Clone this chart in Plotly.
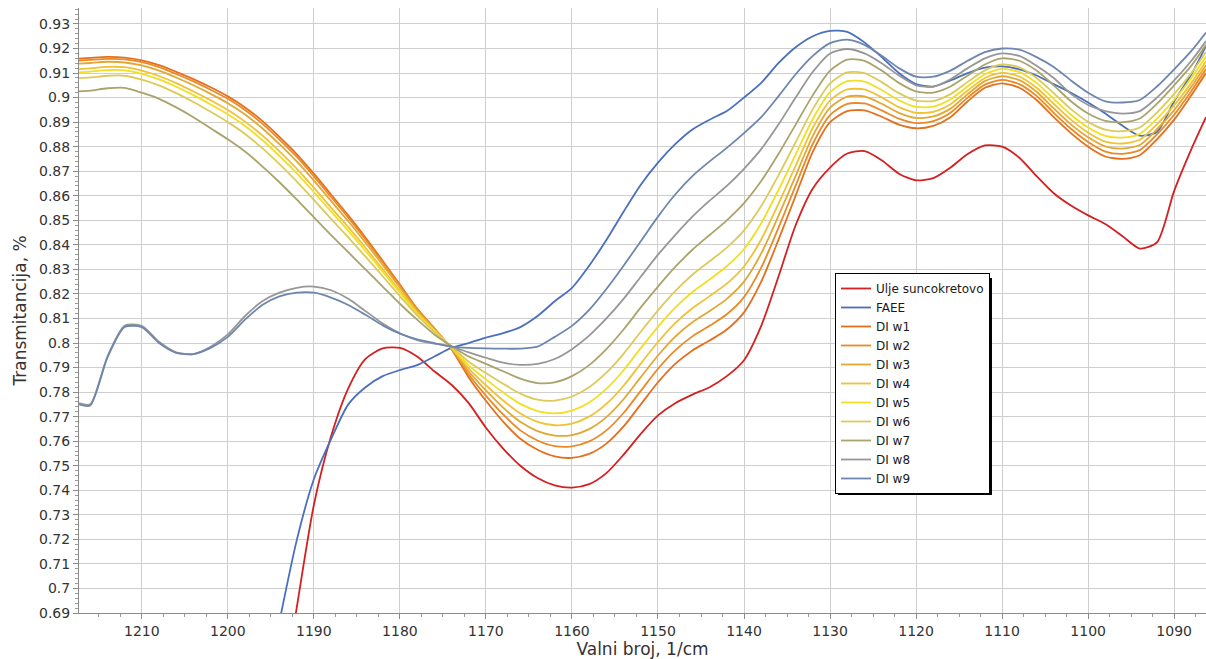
import plotly.graph_objects as go

# valni broj (1/cm)
wavenumber = [1217.3, 1216, 1214, 1212, 1210, 1208, 1206, 1204, 1202, 1200,
              1198, 1196, 1194, 1192, 1190, 1188, 1186, 1184, 1182, 1180,
              1178, 1176, 1174, 1172, 1170, 1168, 1166, 1164, 1162, 1160,
              1158, 1156, 1154, 1152, 1150, 1148, 1146, 1144, 1142, 1140,
              1138, 1136, 1134, 1132, 1130, 1128, 1126, 1124, 1122, 1120,
              1118, 1116, 1114, 1112, 1110, 1108, 1106, 1104, 1102, 1100,
              1098, 1096, 1094, 1092, 1090, 1088, 1086.3]

ulje = [None, None, None, None, None, None, None, None, None, None,
        None, None, 0.648, 0.692, 0.734, 0.762, 0.7815, 0.7935, 0.7978, 0.7980,
        0.7945, 0.7885, 0.7830, 0.7755, 0.7655, 0.7570, 0.7500, 0.7450, 0.7420, 0.7411,
        0.7425, 0.7470, 0.7545, 0.7630, 0.7705, 0.7755, 0.7790, 0.7820, 0.7865, 0.7930,
        0.8070, 0.8270, 0.8480, 0.8630, 0.8715, 0.8772, 0.8782, 0.8745, 0.8690, 0.8663,
        0.8672, 0.8715, 0.8770, 0.8805, 0.8800, 0.8755, 0.8680, 0.8610, 0.8560, 0.8520,
        0.8485, 0.8435, 0.8385, 0.8410, 0.8620, 0.8790, 0.8920]

faee = [None, None, None, None, None, None, None, None, None, None,
        None, None, 0.6865, 0.7195, 0.7445, 0.7608, 0.7750, 0.7820, 0.7865, 0.7890,
        0.7910, 0.7945, 0.7980, 0.8000, 0.8022, 0.8040, 0.8065, 0.8110, 0.8170, 0.8225,
        0.8315, 0.8420, 0.8535, 0.8645, 0.8735, 0.8810, 0.8870, 0.8910, 0.8945, 0.9000,
        0.9060, 0.9140, 0.9205, 0.9250, 0.9272, 0.9268, 0.9225, 0.9165, 0.9100, 0.9055,
        0.9045, 0.9070, 0.9100, 0.9122, 0.9127, 0.9115, 0.9090, 0.9055, 0.9020, 0.8980,
        0.8935, 0.8885, 0.8845, 0.8860, 0.8985, 0.9095, 0.9210]

di_w1 = [0.9159, 0.9162, 0.9166, 0.9163, 0.9152, 0.9132, 0.9105, 0.9075, 0.9042, 0.9005,
         0.8960, 0.8905, 0.8840, 0.8770, 0.8690, 0.8605, 0.8520, 0.8430, 0.8335, 0.8238,
         0.8140, 0.8060, 0.7975, 0.7860, 0.7765, 0.7680, 0.7610, 0.7565, 0.7538, 0.7532,
         0.7548, 0.7590, 0.7660, 0.7750, 0.7840, 0.7915, 0.7970, 0.8010, 0.8055, 0.8125,
         0.8250, 0.8420, 0.8600, 0.8780, 0.8900, 0.8945, 0.8948, 0.8922, 0.8890, 0.8875,
         0.8885, 0.8920, 0.8985, 0.9040, 0.9058, 0.9040, 0.8990, 0.8920, 0.8855, 0.8800,
         0.8760, 0.8750, 0.8765, 0.8830, 0.8910, 0.9010, 0.9100]

di_w2 = [0.9151, 0.9154, 0.9158, 0.9156, 0.9144, 0.9124, 0.9096, 0.9066, 0.9032, 0.8995,
         0.8949, 0.8894, 0.8829, 0.8759, 0.8679, 0.8595, 0.8511, 0.8422, 0.8329, 0.8233,
         0.8137, 0.8059, 0.7977, 0.7872, 0.7786, 0.7709, 0.7644, 0.7603, 0.7580, 0.7579,
         0.7599, 0.7644, 0.7715, 0.7805, 0.7895, 0.7970, 0.8027, 0.8070, 0.8117, 0.8187,
         0.8307, 0.8469, 0.8641, 0.8812, 0.8929, 0.8974, 0.8976, 0.8948, 0.8914, 0.8896,
         0.8904, 0.8938, 0.9000, 0.9053, 0.9072, 0.9055, 0.9007, 0.8938, 0.8873, 0.8819,
         0.8780, 0.8771, 0.8786, 0.8850, 0.8930, 0.9027, 0.9116]

di_w3 = [0.9138, 0.9141, 0.9146, 0.9143, 0.9131, 0.9110, 0.9082, 0.9050, 0.9015, 0.8977,
         0.8931, 0.8875, 0.8810, 0.8740, 0.8662, 0.8579, 0.8496, 0.8409, 0.8318, 0.8226,
         0.8133, 0.8056, 0.7979, 0.7884, 0.7807, 0.7737, 0.7679, 0.7641, 0.7623, 0.7625,
         0.7649, 0.7698, 0.7771, 0.7861, 0.7949, 0.8026, 0.8085, 0.8130, 0.8180, 0.8250,
         0.8365, 0.8518, 0.8681, 0.8844, 0.8959, 0.9004, 0.9005, 0.8975, 0.8938, 0.8917,
         0.8923, 0.8955, 0.9014, 0.9067, 0.9087, 0.9071, 0.9024, 0.8956, 0.8891, 0.8838,
         0.8801, 0.8792, 0.8807, 0.8871, 0.8949, 0.9044, 0.9132]

di_w4 = [0.9116, 0.9119, 0.9125, 0.9124, 0.9110, 0.9088, 0.9059, 0.9025, 0.8989, 0.8949,
         0.8902, 0.8846, 0.8781, 0.8711, 0.8633, 0.8552, 0.8472, 0.8388, 0.8301, 0.8213,
         0.8126, 0.8052, 0.7980, 0.7896, 0.7828, 0.7766, 0.7713, 0.7679, 0.7665, 0.7672,
         0.7700, 0.7752, 0.7826, 0.7916, 0.8004, 0.8081, 0.8142, 0.8191, 0.8242, 0.8312,
         0.8422, 0.8567, 0.8722, 0.8877, 0.8988, 0.9033, 0.9033, 0.9001, 0.8961, 0.8938,
         0.8942, 0.8973, 0.9029, 0.9080, 0.9101, 0.9086, 0.9040, 0.8975, 0.8910, 0.8857,
         0.8821, 0.8813, 0.8828, 0.8891, 0.8969, 0.9060, 0.9148]

di_w5 = [0.9103, 0.9106, 0.9112, 0.9111, 0.9097, 0.9074, 0.9044, 0.9010, 0.8972, 0.8932,
         0.8884, 0.8827, 0.8762, 0.8692, 0.8615, 0.8536, 0.8457, 0.8375, 0.8291, 0.8205,
         0.8121, 0.8050, 0.7983, 0.7909, 0.7852, 0.7799, 0.7752, 0.7723, 0.7713, 0.7725,
         0.7758, 0.7813, 0.7889, 0.7979, 0.8066, 0.8144, 0.8208, 0.8259, 0.8313, 0.8383,
         0.8488, 0.8623, 0.8768, 0.8913, 0.9022, 0.9067, 0.9065, 0.9031, 0.8989, 0.8962,
         0.8963, 0.8993, 0.9046, 0.9095, 0.9117, 0.9104, 0.9060, 0.8995, 0.8930, 0.8878,
         0.8844, 0.8837, 0.8852, 0.8914, 0.8991, 0.9080, 0.9167]

di_w6 = [0.9079, 0.9082, 0.9089, 0.9089, 0.9073, 0.9050, 0.9018, 0.8982, 0.8942, 0.8900,
         0.8852, 0.8794, 0.8729, 0.8659, 0.8583, 0.8506, 0.8430, 0.8352, 0.8272, 0.8191,
         0.8113, 0.8045, 0.7985, 0.7924, 0.7878, 0.7834, 0.7794, 0.7769, 0.7765, 0.7782,
         0.7820, 0.7879, 0.7956, 0.8046, 0.8133, 0.8211, 0.8278, 0.8333, 0.8389, 0.8459,
         0.8558, 0.8683, 0.8818, 0.8953, 0.9058, 0.9103, 0.9100, 0.9063, 0.9018, 0.8988,
         0.8986, 0.9014, 0.9064, 0.9111, 0.9135, 0.9123, 0.9080, 0.9018, 0.8953, 0.8901,
         0.8869, 0.8863, 0.8878, 0.8939, 0.9015, 0.9100, 0.9186]

di_w7 = [0.9025, 0.9028, 0.9038, 0.9040, 0.9020, 0.8995, 0.8960, 0.8920, 0.8875, 0.8830,
         0.8780, 0.8720, 0.8655, 0.8585, 0.8512, 0.8440, 0.8370, 0.8300, 0.8230, 0.8160,
         0.8095, 0.8035, 0.7988, 0.7945, 0.7915, 0.7885, 0.7855, 0.7837, 0.7840, 0.7865,
         0.7910, 0.7975, 0.8055, 0.8145, 0.8230, 0.8310, 0.8380, 0.8440, 0.8500, 0.8570,
         0.8660, 0.8770, 0.8890, 0.9010, 0.9110, 0.9155, 0.9150, 0.9110, 0.9060, 0.9025,
         0.9020, 0.9045, 0.9090, 0.9135, 0.9160, 0.9150, 0.9110, 0.9050, 0.8985, 0.8935,
         0.8905, 0.8900, 0.8915, 0.8975, 0.9050, 0.9130, 0.9215]

di_w8 = [0.7755, 0.7750, 0.7945, 0.8070, 0.8070, 0.8005, 0.7962, 0.7955, 0.7985, 0.8035,
         0.8110, 0.8170, 0.8205, 0.8225, 0.8230, 0.8215, 0.8180, 0.8130, 0.8080, 0.8040,
         0.8012, 0.7998, 0.7985, 0.7962, 0.7940, 0.7920, 0.7911, 0.7915, 0.7935, 0.7975,
         0.8030, 0.8100, 0.8180, 0.8270, 0.8360, 0.8440, 0.8515, 0.8580, 0.8640, 0.8710,
         0.8790, 0.8890, 0.9000, 0.9105, 0.9180, 0.9198, 0.9180, 0.9140, 0.9090, 0.9050,
         0.9045, 0.9075, 0.9120, 0.9160, 0.9180, 0.9170, 0.9130, 0.9080, 0.9015, 0.8970,
         0.8945, 0.8935, 0.8945, 0.9000, 0.9070, 0.9150, 0.9230]

di_w9 = [0.7750, 0.7745, 0.7940, 0.8065, 0.8065, 0.8000, 0.7960, 0.7955, 0.7980, 0.8025,
         0.8095, 0.8155, 0.8190, 0.8205, 0.8205, 0.8185, 0.8155, 0.8115, 0.8072, 0.8038,
         0.8015, 0.8000, 0.7985, 0.7980, 0.7978, 0.7977, 0.7977, 0.7985, 0.8025, 0.8070,
         0.8135, 0.8220, 0.8315, 0.8415, 0.8515, 0.8605, 0.8680, 0.8740, 0.8795, 0.8855,
         0.8920, 0.9005, 0.9095, 0.9170, 0.9222, 0.9236, 0.9215, 0.9170, 0.9120, 0.9085,
         0.9085, 0.9110, 0.9150, 0.9185, 0.9200, 0.9195, 0.9165, 0.9125, 0.9070, 0.9020,
         0.8985, 0.8980, 0.8990, 0.9045, 0.9115, 0.9190, 0.9265]

series = [
    ("Ulje suncokretovo", ulje, "#d42020"),
    ("FAEE", faee, "#4a6fbf"),
    ("DI w1", di_w1, "#e3701e"),
    ("DI w2", di_w2, "#ea8a26"),
    ("DI w3", di_w3, "#e2a834"),
    ("DI w4", di_w4, "#f0c234"),
    ("DI w5", di_w5, "#f2de22"),
    ("DI w6", di_w6, "#dccb5a"),
    ("DI w7", di_w7, "#aaa46c"),
    ("DI w8", di_w8, "#979797"),
    ("DI w9", di_w9, "#6d86ae"),
]

fig = go.Figure()

for name, vals, color in series:
    fig.add_trace(go.Scatter(
        x=wavenumber,
        y=vals,
        mode='lines',
        name=name,
        line=dict(color=color, width=1.8, shape='spline', smoothing=0.7)
    ))

# sjena legende (crni pravokutnik malo pomaknut ispod okvira)
fig.add_shape(
    type='rect', xref='paper', yref='paper',
    x0=0.6735, x1=0.8101, y0=0.1950, y1=0.5537,
    fillcolor='black', line_width=0, layer='above'
)

fig.update_layout(
    width=1206,
    height=659,
    margin=dict(l=79, r=0, t=8, b=46),
    paper_bgcolor='white',
    plot_bgcolor='white',
    font=dict(family='DejaVu Sans', size=14, color='#333333'),
    showlegend=True,
    legend=dict(
        x=0.6708, y=0.562, xanchor='left', yanchor='top',
        bgcolor='white', bordercolor='black', borderwidth=1,
        font=dict(size=12, color='#1a1a1a'),
        tracegroupgap=0
    )
)

fig.update_xaxes(
    range=[1217.3, 1086.3],
    tick0=1090, dtick=10,
    showgrid=True, gridcolor='#cfcfcf', gridwidth=1,
    showline=True, linecolor='#8a8a8a', linewidth=1,
    ticks='outside', ticklen=5, tickcolor='#8a8a8a',
    minor=dict(dtick=2.5, ticks='outside', ticklen=3, tickcolor='#9a9a9a', showgrid=False),
    zeroline=False,
    title=dict(text='Valni broj, 1/cm', standoff=4)
)

fig.update_yaxes(
    range=[0.69, 0.9365],
    tick0=0.69, dtick=0.01,
    showgrid=True, gridcolor='#cfcfcf', gridwidth=1,
    showline=True, linecolor='#8a8a8a', linewidth=1,
    ticks='outside', ticklen=5, tickcolor='#8a8a8a',
    minor=dict(dtick=0.002, ticks='outside', ticklen=3, tickcolor='#9a9a9a', showgrid=False),
    zeroline=False,
    title=dict(text='Transmitancija, %', standoff=8)
)

fig.write_html(
    "out.html",
    config={'displayModeBar': False},
    post_script="document.body.style.margin='0';document.body.style.overflow='hidden';"
)
